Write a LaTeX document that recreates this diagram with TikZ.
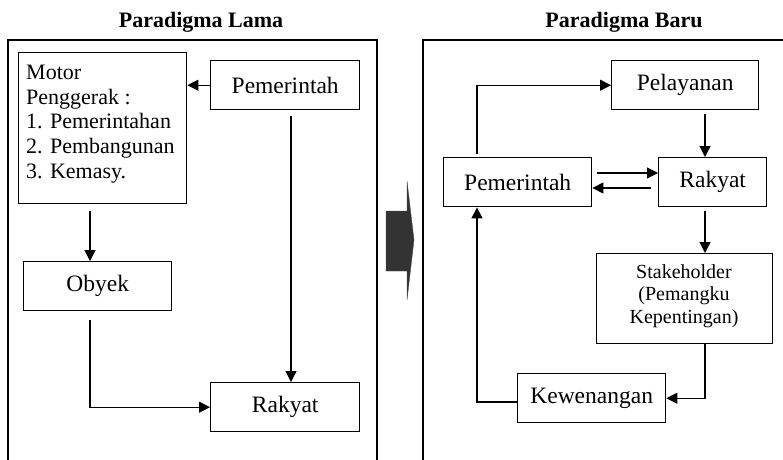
\documentclass[tikz,border=0pt]{standalone}
\usepackage{fontspec}
\setmainfont{Liberation Serif}
\usetikzlibrary{arrows.meta}
\begin{document}
\begin{tikzpicture}[x=1pt,y=-1pt,
  box/.style={draw,line width=1.4pt,inner sep=0pt,anchor=north west},
  txt/.style={font=\fontsize{23.5}{25}\selectfont},
  listtxt/.style={font=\fontsize{22}{24.6}\selectfont},
  conn/.style={line width=1.2pt,-{Triangle[length=11pt,width=11pt]}},
  frame/.style={line width=1.2pt},
  title/.style={font=\fontsize{22}{26}\selectfont\bfseries}]
\useasboundingbox (0,0) rectangle (783,459);

% headings
\node[title] (tl) at (201,22) {Paradigma Lama};
\node[title] (tr) at (624,22) {Paradigma Baru};

% open frames
\draw[frame] (8,460) -- (8,40) -- (377,40) -- (377,460);
\draw[frame] (423,460) -- (423,40) -- (784,40);

% left side
\node[box,minimum width=168pt,minimum height=151pt] (motor) at (18,52) {};
\node[listtxt,align=left,anchor=north west,inner sep=0pt] (motortxt) at (26,65)
  {Motor\\Penggerak :\\1. Pemerintahan\\2. Pembangunan\\3. Kemasy.};
\node[box,minimum width=149pt,minimum height=49pt,txt] (pem1) at (210,60) {Pemerintah};
\node[box,minimum width=148pt,minimum height=49pt,txt] (obyek) at (23,261) {Obyek};
\node[box,minimum width=149pt,minimum height=49pt,txt] (rak1) at (210,382) {Rakyat};

\coordinate (m1) at (90,211);
\coordinate (o1) at (90,320);
\coordinate (p1) at (291,116);
\draw[conn] (pem1.west) -- (motor.east |- pem1.west);
\draw[conn] (m1) -- (obyek.north -| m1);
\draw[conn] (p1) -- (rak1.north -| p1);
\draw[conn] (o1) |- (rak1.west);

% transition arrow
\draw[fill=black!80,line width=0.4pt,draw=black!70]
  (386,211) -- (407,211) -- (407,181) -- (414,240) -- (407,300) -- (407,271) -- (386,271) -- cycle;

% right side
\node[box,minimum width=147pt,minimum height=49pt,txt] (pel) at (611,60) {Pelayanan};
\node[box,minimum width=148pt,minimum height=49pt,txt] (pem2) at (443,157) {Pemerintah};
\node[box,minimum width=108pt,minimum height=49pt,txt] (rak2) at (658,157) {Rakyat};
\node[box,minimum width=176pt,minimum height=90pt] (stake) at (596,253) {};
\node[align=center,font=\fontsize{20}{22.3}\selectfont,inner sep=0pt] (staketxt) at (684,296)
  {Stakeholder\\(Pemangku\\Kepentingan)};
\node[box,minimum width=148pt,minimum height=49pt,txt] (kew) at (517,373) {Kewenangan};

\coordinate (a1) at (477,154);
\coordinate (a2) at (705,114);
\coordinate (a3) at (705,211);
\coordinate (a4) at (705,343);
\coordinate (a5) at (517,402);
\coordinate (b1) at (597,173);
\coordinate (b2) at (651,188);
\draw[conn] (a1) |- (pel.west);
\draw[conn] (a2) -- (rak2.north -| a2);
\draw[conn] (b1) -- (b1 -| rak2.west);
\draw[conn] (b2) -- (b2 -| pem2.east);
\draw[conn] (a3) -- (stake.north -| a3);
\draw[conn] (stake.south -| a4) |- (kew.east);
\draw[conn] (a5) -| (pem2.south -| a1);
\end{tikzpicture}
\end{document}
